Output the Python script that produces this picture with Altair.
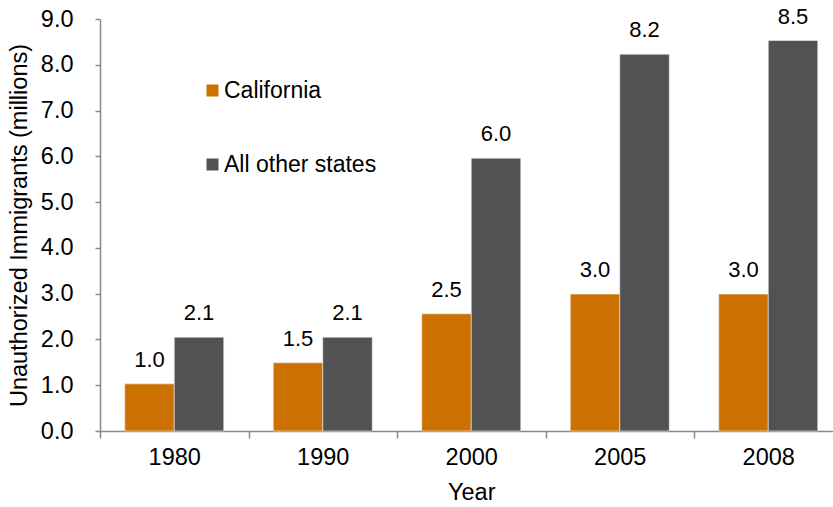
import altair as alt
import pandas as pd

years = ["1980", "1990", "2000", "2005", "2008"]
series = ["California", "All other states"]
california = [1.03, 1.49, 2.56, 2.99, 2.99]
other_states = [2.05, 2.05, 5.96, 8.23, 8.53]
california_labels = ["1.0", "1.5", "2.5", "3.0", "3.0"]
other_labels = ["2.1", "2.1", "6.0", "8.2", "8.5"]
colors = ["#CC7000", "#525254"]
y_ticks = [0, 1, 2, 3, 4, 5, 6, 7, 8, 9]

rows = []
for i, yr in enumerate(years):
    rows.append(dict(Year=yr, Series=series[0], Value=california[i], Label=california_labels[i]))
    rows.append(dict(Year=yr, Series=series[1], Value=other_states[i], Label=other_labels[i]))
df = pd.DataFrame(rows)

FONT = "Liberation Sans"
AXIS_COLOR = "#898989"

x = alt.X(
    "Year:N",
    sort=years,
    scale=alt.Scale(range=[0, 742.5], paddingInner=0, paddingOuter=0),
    axis=alt.Axis(
        title="Year",
        labelAngle=0,
        tickBand="extent",
        tickSize=7,
        labelPadding=7,
        titlePadding=12,
    ),
)
xo = alt.XOffset("Series:N", sort=series, scale=alt.Scale(paddingInner=0, paddingOuter=0.5))
y = alt.Y(
    "Value:Q",
    scale=alt.Scale(domain=[0, 9], nice=False),
    axis=alt.Axis(
        title="Unauthorized Immigrants (millions)",
        values=y_ticks,
        format=".1f",
        tickSize=5,
        labelPadding=22,
        titlePadding=9,
        grid=False,
    ),
)

bars = alt.Chart(df).mark_bar(stroke="#f0f0f0", strokeWidth=0.6).encode(
    x=x,
    xOffset=xo,
    y=y,
    color=alt.Color(
        "Series:N",
        sort=series,
        scale=alt.Scale(domain=series, range=colors),
        legend=alt.Legend(
            title=None,
            orient="none",
            legendX=101,
            legendY=60,
            symbolType="square",
            symbolSize=144,
            symbolStrokeWidth=0,
            labelFontSize=23,
            labelFont=FONT,
            labelColor="black",
            labelOffset=0,
            rowPadding=50,
            padding=0,
        ),
    ),
)

labels = alt.Chart(df).mark_text(
    font=FONT, fontSize=22, color="black", baseline="alphabetic", dy=-17
).encode(
    x=x,
    xOffset=xo,
    y="Value:Q",
    text="Label:N",
)

chart = (
    alt.layer(bars, labels)
    .properties(
        width=733,
        height=412,
        autosize=alt.AutoSizeParams(type="none"),
        padding={"left": 100, "top": 19, "right": 0, "bottom": 76},
    )
    .configure_view(stroke=None)
    .configure_axis(
        domainColor=AXIS_COLOR,
        tickColor=AXIS_COLOR,
        domainWidth=1.5,
        tickWidth=1.5,
        labelFont=FONT,
        titleFont=FONT,
        labelFontSize=23.5,
        titleFontSize=23.5,
        titleFontWeight="normal",
        labelColor="black",
        titleColor="black",
    )
)

chart.save("out.html", embed_options={"renderer": "svg", "actions": False})
